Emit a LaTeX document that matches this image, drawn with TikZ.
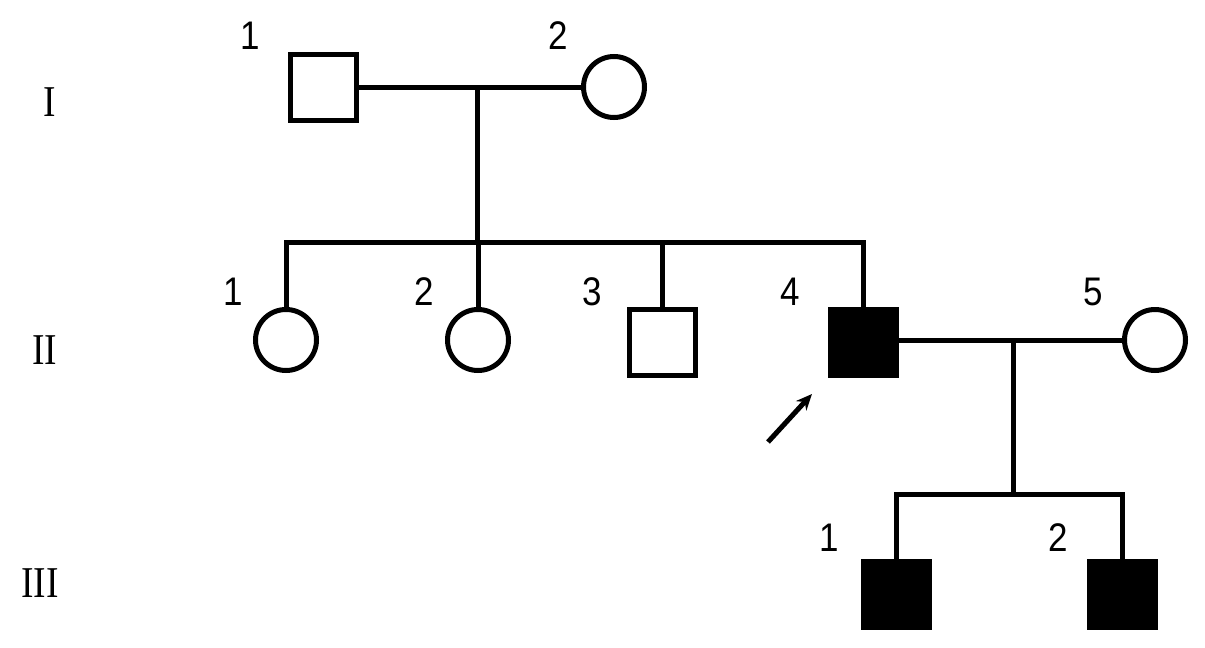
\documentclass[tikz,border=0pt]{standalone}
\usepackage{fontspec}
\setmainfont{Liberation Serif}
\newfontfamily\numfont{Liberation Sans}
\usetikzlibrary{arrows.meta}
\begin{document}
\begin{tikzpicture}[x=0.5pt,y=-0.5pt,
  line width=2.5pt,
  male/.style={draw,rectangle,minimum size=33pt,inner sep=0pt},
  female/.style={draw,circle,minimum size=30.5pt,inner sep=0pt},
  aff/.style={fill=black},
  num/.style={font=\numfont\fontsize{19}{19}\selectfont,inner sep=0pt,yscale=1.05,xscale=0.92},
  gen/.style={font=\fontsize{22}{22}\selectfont,inner sep=0pt,xscale=0.85},
  ln/.style={line width=2.5pt}]
\useasboundingbox (0,0) rectangle (1205,648);
% generation labels
\node[gen] (gI) at (50,102) {I};
\node[gen] (gII) at (45,350) {II};
\node[gen] (gIII) at (40,583) {III};
% generation I
\node[male] (I1) at (323,87) {};
\node[female] (I2) at (614,87) {};
\node[num] (nI1) at (250,36) {1};
\node[num] (nI2) at (558,36) {2};
% generation II
\node[female] (II1) at (286,340) {};
\node[female] (II2) at (478,340) {};
\node[male] (II3) at (662,342) {};
\node[male,aff] (II4) at (863,342) {};
\node[female] (II5) at (1155,340) {};
\node[num] (nII1) at (233,292) {1};
\node[num] (nII2) at (424,292) {2};
\node[num] (nII3) at (592,292) {3};
\node[num] (nII4) at (790,292) {4};
\node[num] (nII5) at (1093,292) {5};
% generation III
\node[male,aff] (III1) at (896,594) {};
\node[male,aff] (III2) at (1122,594) {};
\node[num] (nIII1) at (829,538) {1};
\node[num] (nIII2) at (1058,538) {2};
% coordinates
\coordinate (m1) at (477,87);
\coordinate (s1) at (477,242);
\coordinate (s1L) at (286,242);
\coordinate (s1R) at (863,242);
\coordinate (s1b) at (478,242);
\coordinate (s1c) at (662,242);
\coordinate (m2) at (1013,340);
\coordinate (s2) at (1013,494);
\coordinate (s2L) at (896,494);
\coordinate (s2R) at (1122,494);
\coordinate (arS) at (768,442);
\coordinate (arE) at (812,394);
% lines
\draw[ln] (I1.east) -- (I2.west);
\draw[ln] (m1) -- (s1);
\draw[ln,line cap=rect] (s1L) -- (s1R);
\draw[ln] (s1L) -- (II1.north);
\draw[ln] (s1b) -- (II2.north);
\draw[ln] (s1c) -- (II3.north);
\draw[ln] (s1R) -- (II4.north);
\draw[ln] (II4.east |- m2) -- (II5.west);
\draw[ln] (m2) -- (s2);
\draw[ln,line cap=rect] (s2L) -- (s2R);
\draw[ln] (s2L) -- (III1.north);
\draw[ln] (s2R) -- (III2.north);
\draw[-{Stealth[length=8pt,width=7pt]},line width=2.5pt] (arS) -- (arE);
\end{tikzpicture}
\end{document}
